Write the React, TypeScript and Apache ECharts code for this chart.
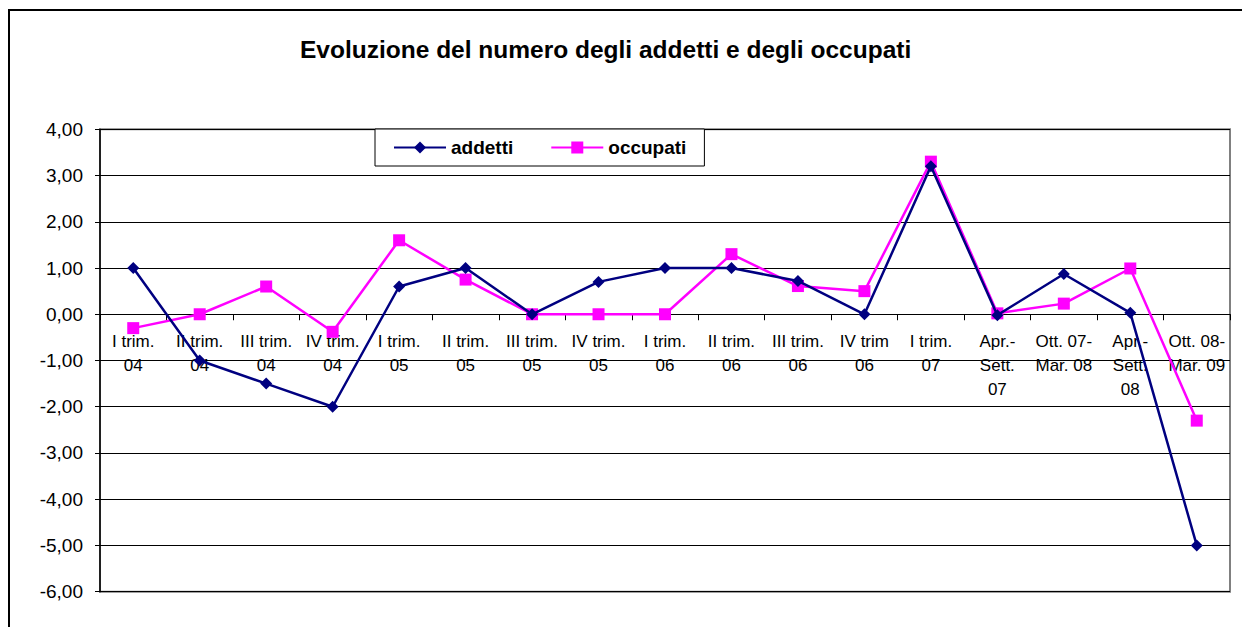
import React, { useEffect, useRef } from "react";
import * as echarts from "echarts";

const categories = [
  "I trim.\n04", "II trim.\n04", "III trim.\n04", "IV trim.\n04",
  "I trim.\n05", "II trim.\n05", "III trim.\n05", "IV trim.\n05",
  "I trim.\n06", "II trim.\n06", "III trim.\n06", "IV trim\n06",
  "I trim.\n07", "Apr.-\nSett.\n07", "Ott. 07-\nMar. 08", "Apr.-\nSett.\n08",
  "Ott. 08-\nMar. 09",
];
const addetti = [1.0, -1.0, -1.5, -2.0, 0.6, 1.0, 0.0, 0.7, 1.0, 1.0, 0.72, 0.0, 3.2, -0.02, 0.87, 0.03, -5.0];
const occupati = [-0.3, 0.0, 0.6, -0.38, 1.6, 0.75, 0.0, 0.0, 0.0, 1.3, 0.61, 0.5, 3.3, 0.02, 0.23, 0.99, -2.3];
const yTicks = { min: -6, max: 4, interval: 1 };

const FONT = "Arial, 'Liberation Sans', sans-serif";

const GRID_TOP = 129.3;
const GRID_BOTTOM = 35.3;
const H = 627;

export default function App() {
  const ref = useRef<HTMLDivElement>(null);
  useEffect(() => {
    if (!ref.current) return;
    const chart = echarts.init(ref.current, null, { renderer: "svg" });
    const gridH = H - GRID_TOP - GRID_BOTTOM;
    const zeroFromBottom = gridH * (0 - yTicks.min) / (yTicks.max - yTicks.min);
    chart.setOption({
      animation: false,
      backgroundColor: "#ffffff",
      textStyle: { fontFamily: FONT },
      title: {
        text: "Evoluzione del numero degli addetti e degli occupati",
        left: 300,
        top: 37,
        padding: 0,
        textStyle: { fontFamily: FONT, fontWeight: "bold", fontSize: 24.5, color: "#000" },
      },
      legend: {
        left: 375,
        top: 129,
        padding: [9, 18],
        borderColor: "#000",
        borderWidth: 1,
        backgroundColor: "#fff",
        itemWidth: 52,
        itemHeight: 15,
        itemGap: 37,
        textStyle: { fontFamily: FONT, fontWeight: "bold", fontSize: 19, color: "#000" },
        data: ["addetti", "occupati"],
      },
      grid: {
        left: 100,
        right: 12,
        top: GRID_TOP,
        bottom: GRID_BOTTOM,
        show: true,
        borderColor: "#808080",
        borderWidth: 2,
        containLabel: false,
        outerBoundsMode: "none",
      },
      xAxis: {
        type: "category",
        data: categories,
        boundaryGap: true,
        position: "bottom",
        offset: -zeroFromBottom,
        axisLine: { onZero: false, lineStyle: { color: "#000", width: 1 } },
        axisTick: { show: true, interval: 0, length: 6, inside: false, lineStyle: { color: "#000" } },
        axisLabel: {
          interval: 0,
          color: "#000",
          fontFamily: FONT,
          fontSize: 17,
          lineHeight: 24,
          margin: 15,
        },
        splitLine: { show: false },
      },
      yAxis: {
        type: "value",
        min: yTicks.min,
        max: yTicks.max,
        interval: yTicks.interval,
        axisLine: { show: true, lineStyle: { color: "#000", width: 1.5 } },
        axisTick: { show: true, length: 5, lineStyle: { color: "#000" } },
        axisLabel: {
          color: "#000",
          fontFamily: FONT,
          fontSize: 19,
          margin: 17,
          formatter: (v: number) => v.toFixed(2).replace(".", ","),
        },
        splitLine: { show: true, lineStyle: { color: "#000", width: 1 } },
      },
      series: [
        {
          name: "addetti",
          type: "line",
          data: addetti,
          symbol: "diamond",
          symbolSize: 12,
          lineStyle: { color: "#000080", width: 2.5 },
          itemStyle: { color: "#000080" },
          z: 3,
        },
        {
          name: "occupati",
          type: "line",
          data: occupati,
          symbol: "rect",
          symbolSize: 12,
          lineStyle: { color: "#FF00FF", width: 2.5 },
          itemStyle: { color: "#FF00FF" },
          z: 2,
        },
      ],
      graphic: [
        {
          type: "rect",
          shape: { x: 9, y: 10, width: 1300, height: 700 },
          style: { fill: "none", stroke: "#000", lineWidth: 2 },
          silent: true,
          z: 100,
        },
      ],
    });
    return () => chart.dispose();
  }, []);
  return (
    <div
      ref={ref}
      style={{ position: "fixed", left: 0, top: 0, width: 1242, height: 627 }}
    />
  );
}
